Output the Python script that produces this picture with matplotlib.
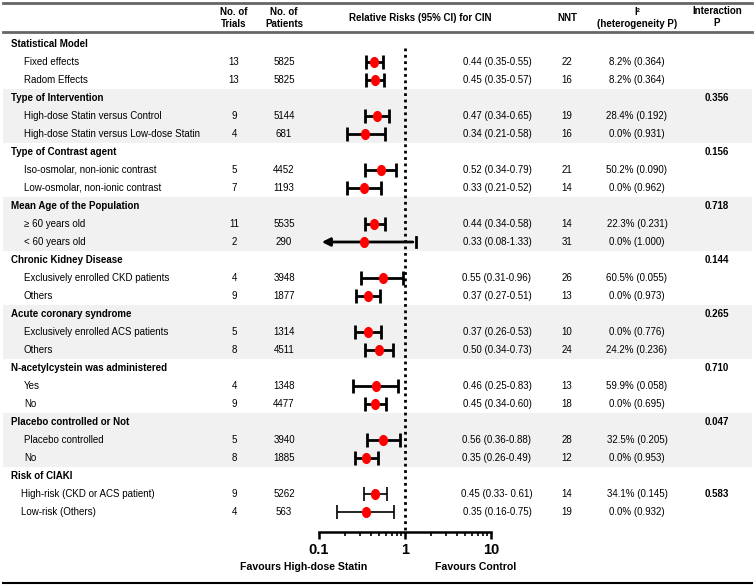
import matplotlib
matplotlib.use("Agg")
import matplotlib.pyplot as plt
from matplotlib.path import Path
from matplotlib.transforms import Affine2D
import numpy as np

plt.rcParams['font.family'] = ['Liberation Sans', 'DejaVu Sans']

# ---- data ----
groups = ["Statistical Model", "Type of Intervention", "Type of Contrast agent",
          "Mean Age of the Population", "Chronic Kidney Disease",
          "Acute coronary syndrome", "N-acetylcystein was administered",
          "Placebo controlled or Not", "Risk of CIAKI"]
group_p = ["", "0.356", "0.156", "0.718", "0.144", "0.265", "0.710", "0.047", ""]

items = [
    ["Fixed effects", "Radom Effects"],
    ["High-dose Statin versus Control", "High-dose Statin versus Low-dose Statin"],
    ["Iso-osmolar, non-ionic contrast", "Low-osmolar, non-ionic contrast"],
    ["\u2265 60 years old", "< 60 years old"],
    ["Exclusively enrolled CKD patients", "Others"],
    ["Exclusively enrolled ACS patients", "Others"],
    ["Yes", "No"],
    ["Placebo controlled", "No"],
    ["High-risk (CKD or ACS patient)", "Low-risk (Others)"],
]
trials = [13, 13, 9, 4, 5, 7, 11, 2, 4, 9, 5, 8, 4, 9, 5, 8, 9, 4]
patients = [5825, 5825, 5144, 681, 4452, 1193, 5535, 290, 3948, 1877,
            1314, 4511, 1348, 4477, 3940, 1885, 5262, 563]
rr = [0.44, 0.45, 0.47, 0.34, 0.52, 0.33, 0.44, 0.33, 0.55, 0.37,
      0.37, 0.50, 0.46, 0.45, 0.56, 0.35, 0.45, 0.35]
lo = [0.35, 0.35, 0.34, 0.21, 0.34, 0.21, 0.34, 0.08, 0.31, 0.27,
      0.26, 0.34, 0.25, 0.34, 0.36, 0.26, 0.33, 0.16]
hi = [0.55, 0.57, 0.65, 0.58, 0.79, 0.52, 0.58, 1.33, 0.96, 0.51,
      0.53, 0.73, 0.83, 0.60, 0.88, 0.49, 0.61, 0.75]
nnt = [22, 16, 19, 16, 21, 14, 14, 31, 26, 13, 10, 24, 13, 18, 28, 12, 14, 19]
i2 = ["8.2% (0.364)", "8.2% (0.364)", "28.4% (0.192)", "0.0% (0.931)",
      "50.2% (0.090)", "0.0% (0.962)", "22.3% (0.231)", "0.0% (1.000)",
      "60.5% (0.055)", "0.0% (0.973)", "0.0% (0.776)", "24.2% (0.236)",
      "59.9% (0.058)", "0.0% (0.695)", "32.5% (0.205)", "0.0% (0.953)",
      "34.1% (0.145)", "0.0% (0.932)"]
shaded = [1, 3, 5, 7]

W, H = 754, 587
fig = plt.figure(figsize=(W / 100, H / 100), dpi=100)
ax = fig.add_axes([0, 0, 1, 1])
ax.set_xlim(0, W)
ax.set_ylim(H, 0)
ax.axis('off')

fs = 7.0
y0, pitch = 44, 18.0
x_tr, x_pt, x_rr, x_nnt, x_i2, x_p = 234, 284, 497, 567, 637, 717

# oval point marker (slightly taller than wide)
circ = Path.unit_circle()
oval = Path(Affine2D().scale(0.8, 1.0).transform(circ.vertices), circ.codes)

# forest axes, same vertical pixel frame
ax_bot = 532
fax = fig.add_axes([319 / W, (H - ax_bot) / H, (491 - 319) / W, ax_bot / H])
fax.set_xscale('log')
fax.set_xlim(0.1, 10)
fax.set_ylim(ax_bot, 0)
fax.patch.set_alpha(0)
for s in ['top', 'right', 'left']:
    fax.spines[s].set_visible(False)
fax.spines['bottom'].set_linewidth(1.8)
fax.set_yticks([])
fax.set_xticks([0.1, 1, 10])
fax.set_xticklabels(["0.1", "1", "10"], fontsize=10.5, fontweight='bold')
fax.tick_params(axis='x', which='major', length=5, width=1.8, pad=3)
fax.tick_params(axis='x', which='minor', length=3, width=1.2)

# header
ax.plot([3, 752], [3, 3], color='#666666', lw=2)
ax.plot([3, 752], [32, 32], color='#666666', lw=2)
ax.plot([3, 752], [583, 583], color='black', lw=1.5)
hkw = dict(fontsize=fs, fontweight='bold', ha='center', va='center', linespacing=1.2)
ax.text(x_tr, 18, "No. of\nTrials", **hkw)
ax.text(x_pt, 18, "No. of\nPatients", **hkw)
ax.text(420, 18, "Relative Risks (95% CI) for CIN", **hkw)
ax.text(x_nnt, 18, "NNT", **hkw)
ax.text(x_i2, 18, "I\u00b2\n(heterogeneity P)", **hkw)
ax.text(x_p, 17, "Interaction\nP", **hkw)

row = 0
k = 0
for g, name in enumerate(groups):
    yg = y0 + pitch * row
    if g in shaded:
        ax.axhspan(yg - 9, yg + 2 * pitch + 9, xmin=3 / W, xmax=752 / W,
                   color='#f1f1f1', lw=0, zorder=0)
    ax.text(11, yg, name, fontsize=fs, fontweight='bold', va='center')
    if group_p[g]:
        ax.text(x_p, yg, group_p[g], fontsize=fs, fontweight='bold', ha='center', va='center')
    row += 1
    for j, it in enumerate(items[g]):
        y = y0 + pitch * row
        indent = 21 if g == len(groups) - 1 else 24
        ax.text(indent, y, it, fontsize=fs, va='center')
        ax.text(x_tr, y, str(trials[k]), fontsize=fs, ha='center', va='center')
        ax.text(x_pt, y, str(patients[k]), fontsize=fs, ha='center', va='center')
        sep = "- " if k == 16 else "-"
        ax.text(x_rr, y, f"{rr[k]:.2f} ({lo[k]:.2f}{sep}{hi[k]:.2f})", fontsize=fs,
                ha='center', va='center')
        ax.text(x_nnt, y, str(nnt[k]), fontsize=fs, ha='center', va='center')
        ax.text(x_i2, y, i2[k], fontsize=fs, ha='center', va='center')
        if g == len(groups) - 1 and j == 0:
            ax.text(x_p, y, "0.583", fontsize=fs, fontweight='bold', ha='center', va='center')

        thin = g == len(groups) - 1
        lw = 1.2 if thin else 2.0
        if lo[k] < 0.1:
            fax.annotate("", xy=(0.1, y), xytext=(hi[k], y),
                         arrowprops=dict(arrowstyle='-|>', color='black', lw=2,
                                         mutation_scale=12), annotation_clip=False)
            fax.plot([hi[k], hi[k]], [y - 5, y + 5], color='black', lw=2)
        else:
            fax.errorbar(rr[k], y, xerr=[[rr[k] - lo[k]], [hi[k] - rr[k]]], fmt='none',
                         ecolor='black', elinewidth=lw, capsize=5, capthick=lw, zorder=2)
        fax.plot(rr[k], y, marker=oval, color='red', markersize=7, ls='none', zorder=3)
        row += 1
        k += 1

# reference line at RR = 1
fax.plot([1, 1], [48, ax_bot], color='black', lw=2, ls=(0, (1, 1.3)), zorder=1)

ax.text(304, 567, "Favours High-dose Statin", fontsize=fs + 0.6, fontweight='bold',
        ha='center', va='center')
ax.text(476, 567, "Favours Control", fontsize=fs + 0.6, fontweight='bold',
        ha='center', va='center')

fig.savefig("out.png", dpi=100)
